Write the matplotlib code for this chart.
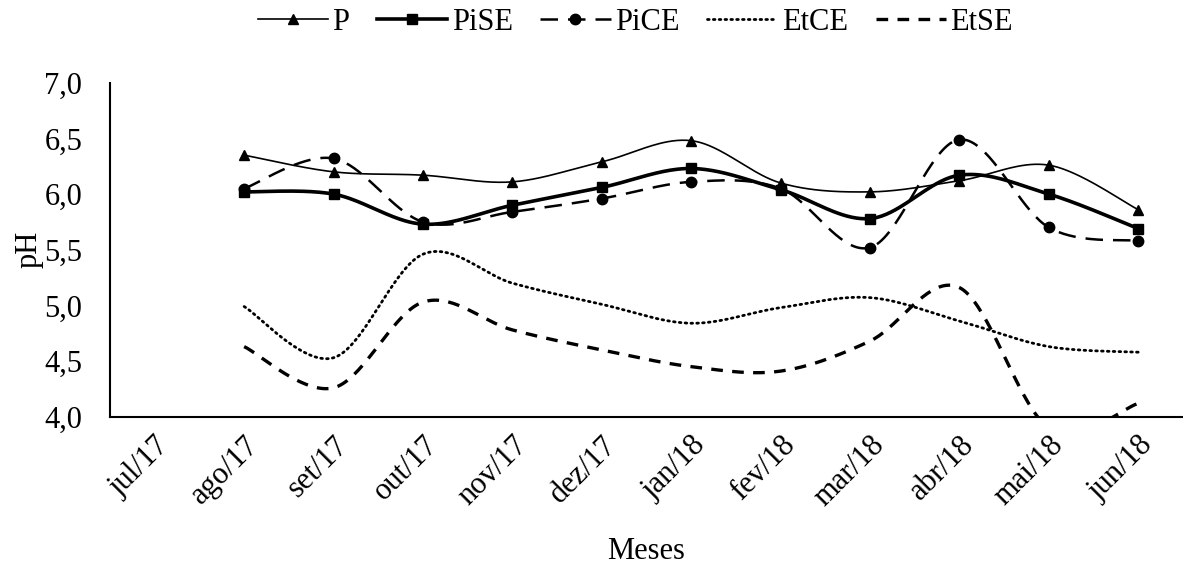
import numpy as np
import matplotlib
matplotlib.use("Agg")
import matplotlib.pyplot as plt
from matplotlib.lines import Line2D

plt.rcParams["font.family"] = ["Liberation Serif", "DejaVu Serif"]

meses = ["jul/17", "ago/17", "set/17", "out/17", "nov/17", "dez/17",
         "jan/18", "fev/18", "mar/18", "abr/18", "mai/18", "jun/18"]

# values from ago/17 to jun/18 (jul/17 has no data)
p_vals = [6.35, 6.20, 6.17, 6.11, 6.29, 6.48, 6.10, 6.02, 6.12, 6.26, 5.86]
pise_vals = [6.02, 6.00, 5.73, 5.90, 6.06, 6.23, 6.04, 5.78, 6.17, 6.00, 5.69]
pice_vals = [6.05, 6.32, 5.75, 5.84, 5.96, 6.11, 6.05, 5.52, 6.49, 5.70, 5.58]
etce_vals = [4.99, 4.53, 5.46, 5.20, 5.01, 4.84, 4.98, 5.07, 4.86, 4.63, 4.58]
etse_vals = [4.63, 4.26, 5.03, 4.78, 4.60, 4.45, 4.41, 4.68, 5.16, 3.90, 4.12]


def smooth(x, y, n=40):
    # catmull-rom style bezier, roughly what excel does for smoothed lines
    x = np.asarray(x, float)
    y = np.asarray(y, float)
    xs, ys = [], []
    m = len(x)
    for i in range(m - 1):
        i0 = max(i - 1, 0)
        i3 = min(i + 2, m - 1)
        p0 = np.array([x[i], y[i]])
        p3 = np.array([x[i + 1], y[i + 1]])
        c1 = p0 + (np.array([x[i + 1], y[i + 1]]) - np.array([x[i0], y[i0]])) / 6
        c2 = p3 - (np.array([x[i3], y[i3]]) - np.array([x[i], y[i]])) / 6
        t = np.linspace(0, 1, n)[:, None]
        pts = (1 - t) ** 3 * p0 + 3 * (1 - t) ** 2 * t * c1 + 3 * (1 - t) * t ** 2 * c2 + t ** 3 * p3
        xs.extend(pts[:, 0])
        ys.extend(pts[:, 1])
    return np.array(xs), np.array(ys)


def main():
    fig = plt.figure(figsize=(11.83, 5.67), dpi=100)
    ax = fig.add_axes([0.093, 0.265, 0.907, 0.589])

    x = np.arange(1, len(meses))
    series = [
        ("P", p_vals, dict(lw=1.2, ls="-"), dict(marker="^", ms=7)),
        ("PiSE", pise_vals, dict(lw=2.6, ls="-"), dict(marker="s", ms=7.5)),
        ("PiCE", pice_vals, dict(lw=1.8, ls=(0, (7, 4))), dict(marker="o", ms=7.5)),
        ("EtCE", etce_vals, dict(lw=2.0, ls=(0, (0.6, 1.5)), dash_capstyle="round"), None),
        ("EtSE", etse_vals, dict(lw=2.4, ls=(0, (3.5, 2.8))), None),
    ]
    handles = []
    for name, vals, lstyle, mstyle in series:
        sx, sy = smooth(x, vals)
        ax.plot(sx, sy, color="black", **lstyle)
        h = dict(color="black", **lstyle)
        if mstyle:
            ax.plot(x, vals, ls="none", color="black", **mstyle)
            h.update(mstyle)
        handles.append(Line2D([], [], **h))

    ax.set_xlim(-0.5, len(meses) - 0.5)
    ax.set_ylim(4.0, 7.0)
    ax.set_yticks(np.arange(4.0, 7.01, 0.5))
    ax.set_yticklabels([f"{v:.1f}".replace(".", ",") for v in np.arange(4.0, 7.01, 0.5)])
    ax.set_xticks(range(len(meses)))
    ax.set_xticklabels(meses, rotation=45, ha="right", rotation_mode="anchor")
    ax.tick_params(length=0, labelsize=22)
    ax.tick_params(axis="y", pad=20)
    ax.tick_params(axis="x", pad=10)
    for side in ("top", "right"):
        ax.spines[side].set_visible(False)
    for side in ("left", "bottom"):
        ax.spines[side].set_linewidth(1.5)

    ax.set_ylabel("pH", fontsize=22)
    ax.yaxis.set_label_coords(-0.062, 0.5)
    ax.set_xlabel("Meses", fontsize=22, labelpad=18)

    fig.legend(handles, [s[0] for s in series], loc="center", bbox_to_anchor=(0.537, 0.96),
               ncol=5, frameon=False, fontsize=22, handlelength=2.3, handletextpad=0.15,
               columnspacing=0.9)

    fig.savefig("out.png", dpi=100)


if __name__ == "__main__":
    main()
